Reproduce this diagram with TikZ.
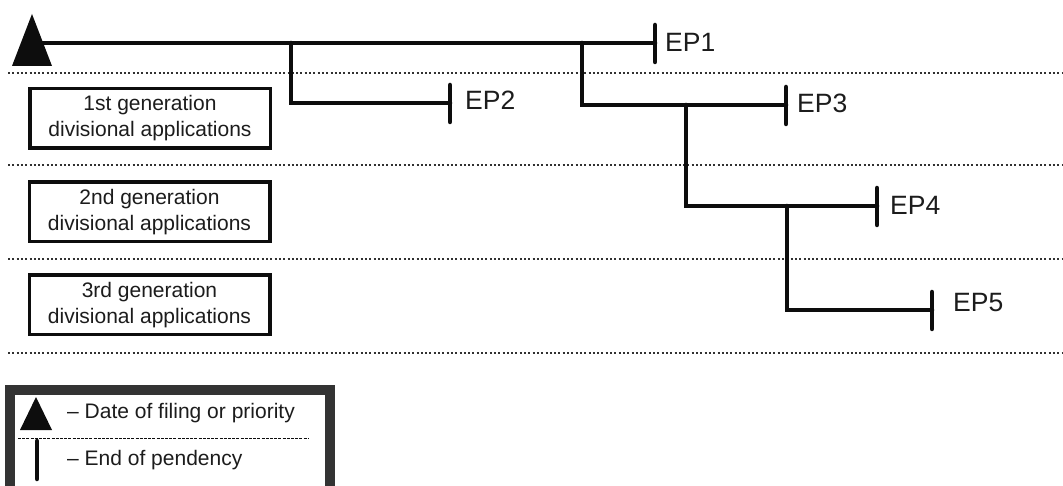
\documentclass[tikz,border=0pt]{standalone}
\usepackage{fontspec}
\setmainfont{Liberation Sans}
\definecolor{ink}{HTML}{0D0D0D}
\definecolor{txt}{HTML}{1C1C1C}
\definecolor{frame}{HTML}{333333}
\tikzset{
  tl/.style={line width=4.5pt, draw=ink, line cap=round, line join=miter},
  endtick/.style={line width=4.5pt, draw=ink, line cap=round},
  sep/.style={line width=2.6pt, draw=ink!85, dash pattern=on 2pt off 2.3pt},
  genbox/.style={draw=ink, line width=3.5pt, minimum width=240.5pt, minimum height=59.5pt,
     align=center, font=\fontsize{21}{26}\selectfont, text=txt, inner sep=0pt},
  eplabel/.style={anchor=west, inner sep=0pt, font=\fontsize{26.5}{30}\selectfont, text=txt},
  legtext/.style={anchor=west, inner sep=0pt, font=\fontsize{21}{25}\selectfont, text=txt},
}
\begin{document}
\begin{tikzpicture}[x=1pt,y=-1pt]
\useasboundingbox (0,0) rectangle (1063,486);
\clip (0,0) rectangle (1063,486);
\fill[white] (0,0) rectangle (1063,486);

% separators
\foreach \yy in {73,165,259,353} \draw[sep] (8,\yy) -- (1063,\yy);

% generation boxes
\node[genbox] (g1) at (150,118.5) {1st generation\\divisional applications};
\node[genbox] (g2) at (149.5,212) {2nd generation\\divisional applications};
\node[genbox] (g3) at (149.5,305) {3rd generation\\divisional applications};

% filing triangle
\fill[ink] (32,14) -- (52,66) -- (12,66) -- cycle;
\coordinate (f0) at (36,43);

% coordinates
\coordinate (e1) at (655,43);
\coordinate (b1) at (291,43);
\coordinate (e2) at (450,103);
\coordinate (b2) at (582,43);
\coordinate (e3) at (786,105);
\coordinate (b3) at (686,105);
\coordinate (e4) at (877,206);
\coordinate (b4) at (787,206);
\coordinate (e5) at (932,310);

% timeline
\draw[tl] (f0) -- (e1);
\draw[tl] (b1) |- (e2);
\draw[tl] (b2) |- (e3);
\draw[tl] (b3) |- (e4);
\draw[tl] (b4) |- (e5);

% end ticks
\foreach \e in {e1,e2,e3,e4,e5}
  \draw[endtick] ([yshift=-19pt]\e) -- ([yshift=18pt]\e);

% labels
\node[eplabel] (l1) at (665,42) {EP1};
\node[eplabel] (l2) at (465,100) {EP2};
\node[eplabel] (l3) at (797,103) {EP3};
\node[eplabel] (l4) at (890,205) {EP4};
\node[eplabel] (l5) at (953,303) {EP5};

% legend
\draw[draw=frame, line width=10pt] (10,390) rectangle (330,494);
\fill[ink] (36,397) -- (52,430) -- (20,430) -- cycle;
\draw[ink, line width=0.9pt, dash pattern=on 3pt off 1.2pt] (18,438) -- (308,438);
\coordinate (t1) at (37,441);
\coordinate (t2) at (37,479);
\draw[endtick] (t1) -- (t2);
\node[legtext] (d1) at (67,413) {-- Date of filing or priority};
\node[legtext] (d2) at (67,460) {-- End of pendency};
\end{tikzpicture}
\end{document}
